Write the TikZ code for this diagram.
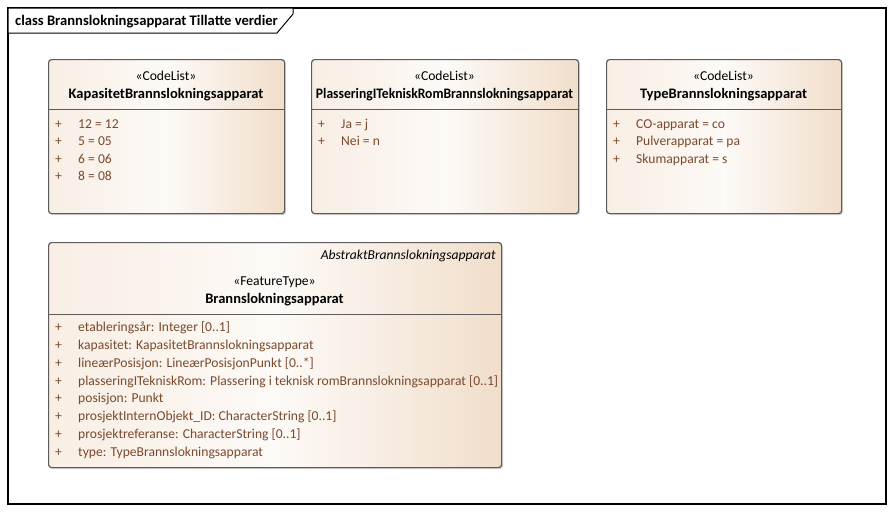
\documentclass[tikz,border=0pt]{standalone}
\usepackage{fontspec}
\setmainfont{Carlito}
\usetikzlibrary{shadows}
\definecolor{attrtext}{HTML}{7A4A2C}
\definecolor{boxline}{HTML}{5C5C5C}
\definecolor{boxright}{HTML}{F1DECB}
\definecolor{boxleft}{HTML}{F8EEE4}
\begin{document}
\begin{tikzpicture}[
  x=1pt, y=-1pt,
  font=\fontsize{13.6}{16}\selectfont,
  classbox/.style={draw=boxline, line width=1.2pt, rounded corners=3pt, anchor=north west,
    inner sep=0pt, left color=boxleft, right color=boxright, middle color=white!70!boxleft,
    drop shadow={shadow xshift=1.5pt, shadow yshift=-1.5pt, opacity=0.35}},
  stereo/.style={anchor=base, inner sep=0pt},
  cname/.style={anchor=base, inner sep=0pt, font=\fontsize{14.5}{17}\selectfont\bfseries},
  attr/.style={anchor=base west, inner sep=0pt, text=attrtext},
  divider/.style={draw=boxline, line width=1pt},
]
\useasboundingbox (0,0) rectangle (894,512);
% frame
\draw[line width=1.2pt] (8,8) rectangle (886,504);
\draw[line width=1pt, fill=white] (8,8) -- (293,8) -- (293,14) -- (277,33) -- (8,33) -- cycle;
\node[anchor=base west, inner sep=0pt, font=\fontsize{14.6}{17}\selectfont\bfseries] (title) at (15,25) {class Brannslokningsapparat Tillatte verdier};

% code lists
\node[classbox, minimum width=236pt, minimum height=154pt] (kap) at (48,59) {};
\node[classbox, minimum width=267pt, minimum height=154pt] (plass) at (311,59) {};
\node[classbox, minimum width=235pt, minimum height=154pt] (type) at (606,59) {};
\node[classbox, minimum width=453pt, minimum height=225pt] (brann) at (48,242) {};

\draw[divider] (48,109) -- (284,109);
\draw[divider] (311,109) -- (578,109);
\draw[divider] (606,109) -- (841,109);
\draw[divider] (48,314) -- (501,314);

\node[stereo] (kapst) at (166,80.5) {«CodeList»};
\node[cname] (kapnm) at (166,98) {KapasitetBrannslokningsapparat};
\node[stereo] (plassst) at (444.5,80) {«CodeList»};
\node[cname] (plassnm) at (444.5,98) {\scalebox{0.936}[1]{PlasseringITekniskRomBrannslokningsapparat}};
\node[stereo] (typest) at (723.5,80) {«CodeList»};
\node[cname] (typenm) at (723.5,98) {TypeBrannslokningsapparat};

\foreach \txt [count=\i from 0] in {12 = 12, 5 = 05, 6 = 06, 8 = 08} {
  \node[attr] at (55,128+17.6*\i) {+};
  \node[attr] at (78,128+17.6*\i) {\txt};
}
\foreach \txt [count=\i from 0] in {Ja = j, Nei = n} {
  \node[attr] at (318,128+17.6*\i) {+};
  \node[attr] at (341,128+17.6*\i) {\txt};
}
\foreach \txt [count=\i from 0] in {CO-apparat = co, Pulverapparat = pa, Skumapparat = s} {
  \node[attr] at (613,128+17.6*\i) {+};
  \node[attr] at (636,128+17.6*\i) {\txt};
}

% feature type
\node[anchor=base east, inner sep=0pt, font=\fontsize{13.6}{16}\selectfont\itshape] (abstr) at (496,259) {AbstraktBrannslokningsapparat};
\node[stereo] (brannst) at (274.5,285.5) {«FeatureType»};
\node[cname] (brannnm) at (274.5,303) {Brannslokningsapparat};
\foreach \txt [count=\i from 0] in {etableringsår: Integer [0..1],
    kapasitet: KapasitetBrannslokningsapparat,
    lineærPosisjon: LineærPosisjonPunkt [0..*],
    plasseringITekniskRom: Plassering i teknisk romBrannslokningsapparat [0..1],
    posisjon: Punkt,
    prosjektInternObjekt\_ID: CharacterString [0..1],
    prosjektreferanse: CharacterString [0..1],
    type: TypeBrannslokningsapparat} {
  \node[attr] at (55,331.5+17.85*\i) {+};
  \node[attr] at (78,331.5+17.85*\i) {\txt};
}
\end{tikzpicture}
\end{document}
